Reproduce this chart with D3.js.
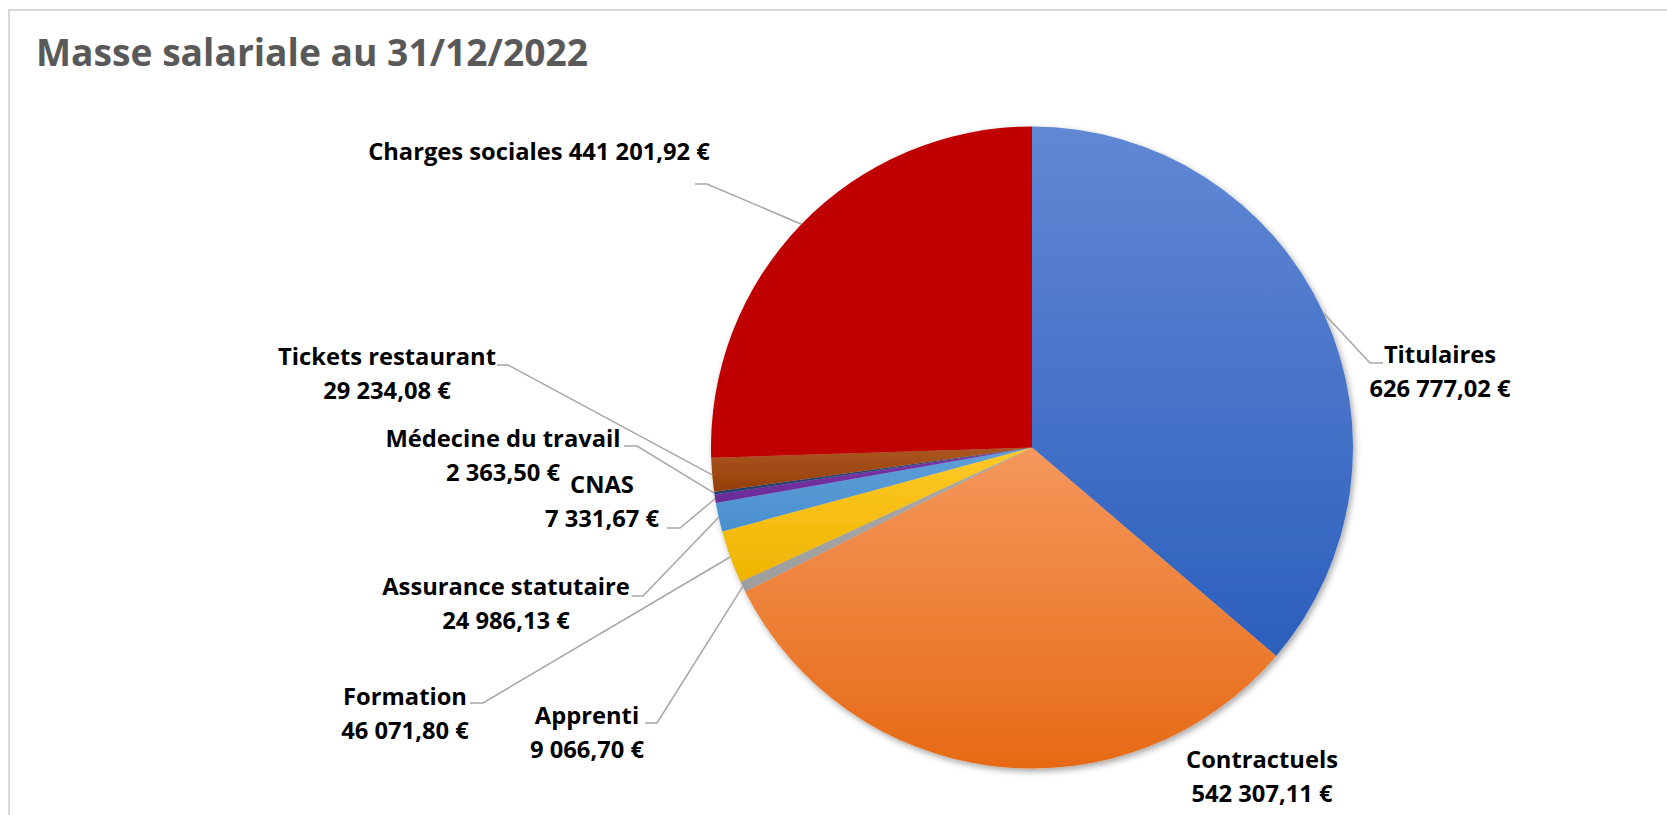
<!DOCTYPE html>
<html>
<head>
<meta charset="utf-8">
<script src="https://cdn.jsdelivr.net/npm/d3@7"></script>
<style>
  html, body { margin: 0; padding: 0; background: #fff; }
  svg { display: block; font-family: "Open Sans", "Noto Sans", sans-serif; }
</style>
</head>
<body>
<script>
// data
var categories = ["Titulaires", "Contractuels", "Apprenti", "Formation", "Assurance statutaire",
    "CNAS", "Médecine du travail", "Tickets restaurant", "Charges sociales"];
var values = [626777.02, 542307.11, 9066.70, 46071.80, 24986.13, 7331.67, 2363.50, 29234.08, 441201.92];
var valueLabels = ["626 777,02 €", "542 307,11 €", "9 066,70 €", "46 071,80 €", "24 986,13 €",
    "7 331,67 €", "2 363,50 €", "29 234,08 €", "441 201,92 €"];
var titleText = "Masse salariale au 31/12/2022";

// slice colours (top, bottom of the gradient)
var colorsTop = ["#6288d4", "#f5975c", "#a9a9a9", "#ffc928", "#5f9fd8", "#7a35a8", "#2a4a80", "#ab5622", "#c00000"];
var colorsBottom = ["#2c5fbd", "#e66a15", "#9e9e9e", "#eeb400", "#4a8fcf", "#6a2c98", "#22406f", "#963f08", "#c00000"];

// label layout: centre x, first baseline, leader elbow, leader end (null = no leader)
var labelPos = [
    {cx: 1440, y: 363, elbow: [1370, 363], end: [1383, 363]},
    {cx: 1262, y: 768, elbow: null, end: null},
    {cx: 587, y: 724, elbow: [657, 723], end: [645, 723]},
    {cx: 405, y: 705, elbow: [483, 703], end: [470, 703]},
    {cx: 506, y: 595, elbow: [643, 596], end: [632, 596]},
    {cx: 602, y: 493, elbow: [680, 528], end: [667, 528]},
    {cx: 503, y: 447, elbow: [637, 446], end: [624, 446]},
    {cx: 387, y: 365, elbow: [508, 365], end: [497, 365]},
    {cx: 539, y: 160, elbow: [707, 184], end: [695, 184], oneLine: true}
];

var width = 1667, height = 815;
var cx = 1032, cy = 447.5, radius = 321;
var lineGap = 34;

var svg = d3.select("body").append("svg")
    .attr("width", width)
    .attr("height", height);

var defs = svg.append("defs");

// soft outer shadow of the pie
var shadow = defs.append("filter").attr("id", "pieShadow")
    .attr("x", "-10%").attr("y", "-10%").attr("width", "120%").attr("height", "120%");
shadow.append("feDropShadow")
    .attr("dx", 2).attr("dy", 3).attr("stdDeviation", 3)
    .attr("flood-color", "#000").attr("flood-opacity", 0.35);

categories.forEach(function(c, i) {
    var g = defs.append("linearGradient").attr("id", "grad" + i)
        .attr("x1", 0).attr("y1", 0).attr("x2", 0).attr("y2", 1);
    g.append("stop").attr("offset", "0%").attr("stop-color", colorsTop[i]);
    g.append("stop").attr("offset", "100%").attr("stop-color", colorsBottom[i]);
});

// chart frame (only top and left visible)
svg.append("path")
    .attr("d", "M9," + height + "V10H" + width)
    .attr("fill", "none")
    .attr("stroke", "#d9d9d9")
    .attr("stroke-width", 2);

// title
var title = svg.append("text")
    .attr("x", 36).attr("y", 66)
    .attr("font-size", 36).attr("font-weight", 700)
    .attr("fill", "#595959")
    .text(titleText);
// fit font size so the title is ~552px wide like the original
var tw = title.node().getComputedTextLength();
title.attr("font-size", 36 * 552 / tw);

var pie = d3.pie().sort(null).value(function(d) { return d; });
var arcs = pie(values);

var arc = d3.arc().innerRadius(0).outerRadius(radius);
var edgeArc = d3.arc().innerRadius(radius).outerRadius(radius);

var pieG = svg.append("g")
    .attr("class", "pie")
    .attr("transform", "translate(" + cx + "," + cy + ")")
    .attr("filter", "url(#pieShadow)");

pieG.selectAll("path")
    .data(arcs)
    .enter().append("path")
    .attr("d", arc)
    .attr("fill", function(d, i) { return "url(#grad" + i + ")"; });

// leader lines
var leaders = svg.append("g").attr("class", "leaders");
arcs.forEach(function(d, i) {
    var p = labelPos[i];
    if (!p.elbow) return;
    var c = edgeArc.centroid(d);
    var pts = [[cx + c[0], cy + c[1]], p.elbow, p.end];
    leaders.append("path")
        .attr("d", d3.line()(pts))
        .attr("fill", "none")
        .attr("stroke", "#a6a6a6")
        .attr("stroke-width", 1.5);
});

// labels
var labelSize = 22;
var labels = svg.append("g").attr("class", "labels")
    .attr("font-weight", 700)
    .attr("fill", "#000")
    .attr("text-anchor", "middle");

arcs.forEach(function(d, i) {
    var p = labelPos[i];
    var t = labels.append("text").attr("x", p.cx).attr("y", p.y);
    if (p.oneLine) {
        t.text(categories[i] + " " + valueLabels[i]);
    } else {
        t.append("tspan").attr("x", p.cx).attr("y", p.y).text(categories[i]);
        t.append("tspan").attr("x", p.cx).attr("y", p.y + lineGap).text(valueLabels[i]);
    }
});

// match label width to the original (Charges sociales line is ~342px)
labels.attr("font-size", labelSize);
var ref = labels.selectAll("text").nodes()[8].getComputedTextLength();
labels.attr("font-size", labelSize * 342 / ref);
</script>
</body>
</html>
